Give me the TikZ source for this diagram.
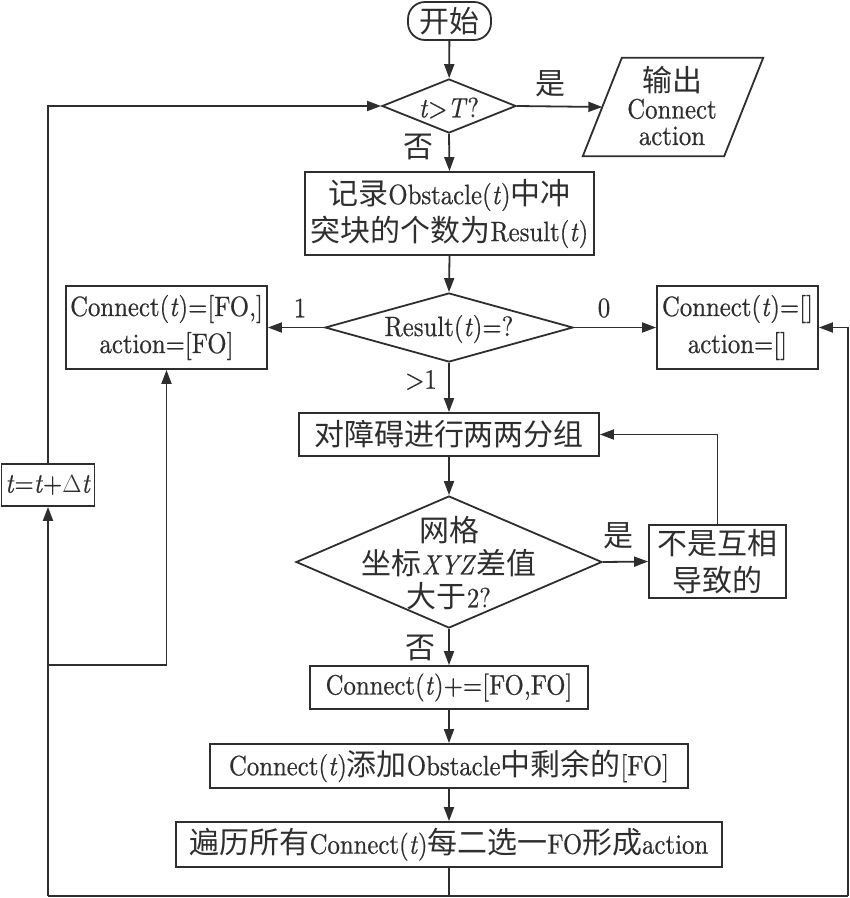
\documentclass[tikz,border=0pt]{standalone}
\usepackage{fontspec}
\setmainfont{lmroman10-regular.otf}[ItalicFont=lmroman10-italic.otf, BoldFont=lmroman10-bold.otf, FakeStretch=0.885, FakeBold=0.6]
\newfontfamily\cjkfont{Noto Sans CJK SC}[Scale=1.07]
\newcommand{\zhtxt}[1]{{\cjkfont #1}}
\usetikzlibrary{shapes.geometric,arrows.meta,calc}
\definecolor{ink}{HTML}{2E2E2E}
\begin{document}
\begin{tikzpicture}[x=1pt,y=-1pt,
  every node/.style={font=\fontsize{28}{37}\selectfont, text=ink},
  ln/.style={draw=ink, line width=1.8pt},
  box/.style={ln, rectangle, inner sep=0pt, align=center},
  dia/.style={ln, diamond, inner sep=0pt},
  arr/.style={ln, -{Triangle[length=14pt,width=10pt]}},
  lab/.style={inner sep=0pt},
]
\useasboundingbox (0,0) rectangle (850,898);

% nodes
\node[box, rounded corners=17pt, minimum width=83pt, minimum height=38pt] (start) at (449.5,21) {\zhtxt{开始}};
\node[dia, minimum width=134pt, minimum height=54pt] (d1) at (449,106) {};
\node[lab] (d1t) at (449,108) {\textit{t}>\textit{T}?};
\node[inner sep=0pt, minimum width=141pt, minimum height=98pt] (out) at (673,107) {};
\node[lab, align=center, font=\fontsize{28}{26.5}\selectfont] (outt) at (672,106) {\zhtxt{输出}\\Connect\\action};
\draw[ln] ($(out.south west)+(-19.5,0)$) -- ($(out.north west)+(19.5,0)$) -- ($(out.north east)+(19.5,0)$) -- ($(out.south east)+(-19.5,0)$) -- cycle;
\node[box, minimum width=289pt, minimum height=83pt] (rec) at (449.5,213.5) {\zhtxt{记录}Obstacle(\textit{t})\zhtxt{中冲}\\\zhtxt{突块的个数为}Result(\textit{t})};
\node[dia, minimum width=248pt, minimum height=69pt] (d2) at (449,327.5) {};
\node[lab] (d2t) at (449,329) {Result(\textit{t})=?};
\node[box, minimum width=201pt, minimum height=83pt] (lbox) at (166.5,327.5) {Connect(\textit{t})=[FO,]\\action=[FO]};
\node[box, minimum width=161pt, minimum height=83pt] (rbox) at (737.5,327.5) {Connect(\textit{t})=[]\\action=[]};
\node[box, minimum width=300pt, minimum height=43pt] (grp) at (449,434.5) {\zhtxt{对障碍进行两两分组}};
\node[dia, minimum width=306pt, minimum height=132pt] (d3) at (449,562) {};
\node[lab, align=center, font=\fontsize{28}{33}\selectfont] (d3t) at (449,563) {\zhtxt{网格}\\\zhtxt{坐标}\textit{XYZ}\zhtxt{差值}\\\zhtxt{大于}2?};
\node[box, minimum width=137pt, minimum height=73pt] (nb) at (717.5,561.5) {\zhtxt{不是互相}\\\zhtxt{导致的}};
\node[box, minimum width=93pt, minimum height=42pt] (tbox) at (48,485) {\textit{t}=\textit{t}+$\Delta$\textit{t}};
\node[box, minimum width=278pt, minimum height=43pt] (add1) at (449,687.5) {Connect(\textit{t})+=[FO,FO]};
\node[box, minimum width=478pt, minimum height=44pt] (add2) at (449,766) {Connect(\textit{t})\zhtxt{添加}Obstacle\zhtxt{中剩余的}[FO]};
\node[box, minimum width=546pt, minimum height=45pt] (trav) at (449,844.5) {\zhtxt{遍历所有}Connect(\textit{t})\zhtxt{每二选一}FO\zhtxt{形成}action};

% coordinates
\coordinate (bot) at (449,896);
\coordinate (bl) at (48,896);
\coordinate (br) at (848,896);
\coordinate (j) at (48,665);

% connectors
\draw[arr] (start) -- (d1);
\draw[arr] (d1.east) -- (out.west);
\draw[arr] (d1.south) -- (rec.north);
\draw[arr] (rec.south) -- (d2.north);
\draw[arr] (d2.west) -- (lbox.east);
\draw[arr] (d2.east) -- (rbox.west);
\draw[arr] (d2.south) -- (grp.north);
\draw[arr] (grp.south) -- (d3.north);
\draw[arr] (d3.east) -- (nb.west);
\draw[arr] (nb.north) |- (grp.east);
\draw[arr] (d3.south) -- (add1.north);
\draw[arr] (add1.south) -- (add2.north);
\draw[arr] (add2.south) -- (trav.north);
\draw[ln] (trav.south) -- (bot);
\draw[ln] (bl) -- (br);
\draw[arr] (br) |- (rbox.east);
\draw[arr] (bl) -- (tbox.south);
\draw[arr] (tbox.north) |- (d1.west);
\draw[arr] (j) -| (lbox.south);

% labels
\node[lab] (l1) at (550,84) {\zhtxt{是}};
\node[lab] (l2) at (418,147) {\zhtxt{否}};
\node[lab] (l3) at (300,308) {1};
\node[lab] (l4) at (604,308) {0};
\node[lab] (l5) at (421,380) {>1};
\node[lab] (l6) at (618,536) {\zhtxt{是}};
\node[lab] (l7) at (420,648) {\zhtxt{否}};
\end{tikzpicture}
\end{document}
